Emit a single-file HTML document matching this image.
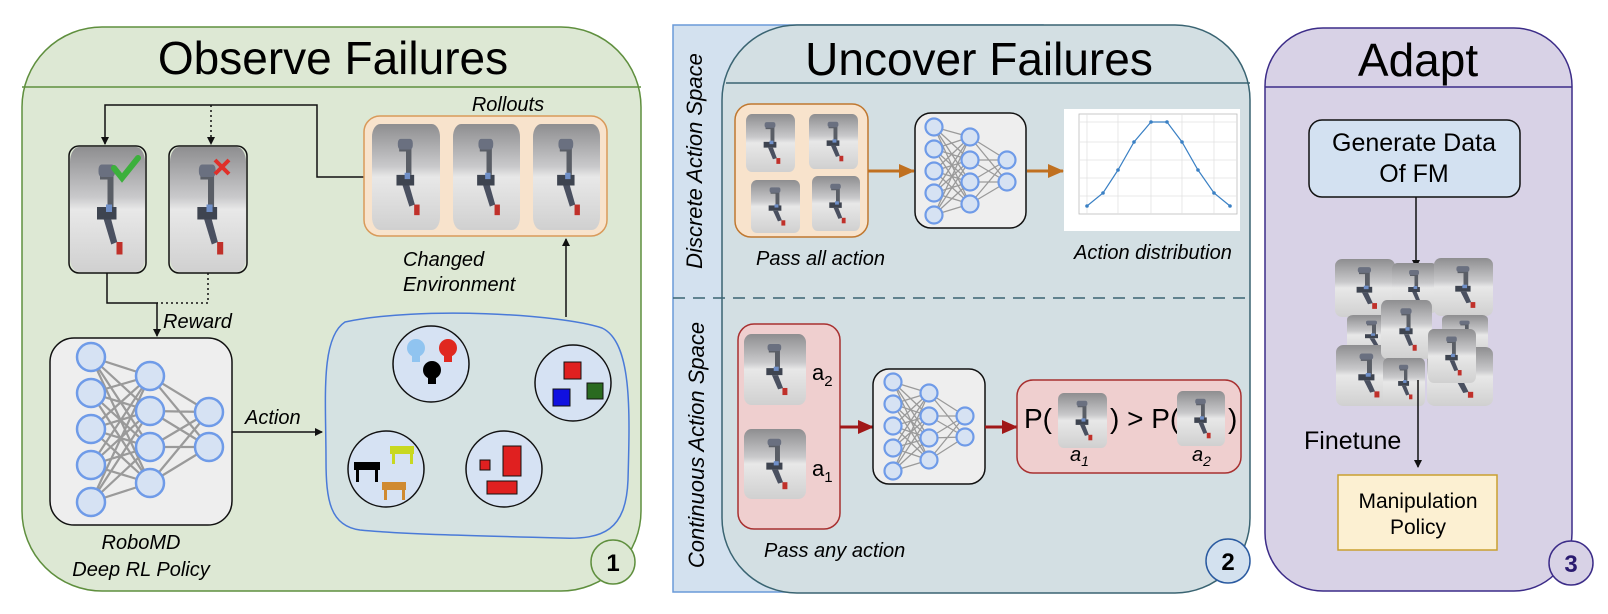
<!DOCTYPE html>
<html><head><meta charset="utf-8"><style>
html,body{margin:0;padding:0;background:#fff;}
svg{display:block;font-family:"Liberation Sans",sans-serif;}
</style></head><body>
<svg width="1608" height="614" viewBox="0 0 1608 614" xmlns="http://www.w3.org/2000/svg">
<defs>
<linearGradient id="pg" x1="0" y1="0" x2="0" y2="1">
<stop offset="0" stop-color="#8e8e90"/><stop offset="0.4" stop-color="#c9c9cb"/><stop offset="0.5" stop-color="#e8e8e8"/><stop offset="1" stop-color="#d0d0d0"/></linearGradient>
<symbol id="ph" viewBox="0 0 100 100" preserveAspectRatio="none">
<rect x="0" y="0" width="100" height="100" rx="12" fill="url(#pg)"/>
<path d="M40 18 h18 v30 h-8 v-22 h-10z" fill="#5a5e66"/>
<rect x="38" y="14" width="22" height="10" rx="4" fill="#6a7080"/>
<path d="M36 48 h26 v10 h-26z" fill="#3e4450"/>
<path d="M45 58 l10 0 l8 18 l-8 2z" fill="#4a5060"/>
<rect x="48" y="46" width="8" height="6" fill="#6f8fc8"/>
<rect x="62" y="76" width="8" height="10" fill="#c0302a"/>
</symbol>
<marker id="ah" markerWidth="8" markerHeight="8" refX="7" refY="4" orient="auto" markerUnits="userSpaceOnUse"><path d="M0 0 L8 4 L0 8z" fill="#111"/></marker>
<marker id="ao" markerWidth="16" markerHeight="14" refX="15" refY="7" orient="auto" markerUnits="userSpaceOnUse"><path d="M0 0 L16 7 L0 14z" fill="#c07020"/></marker>
<marker id="ar" markerWidth="16" markerHeight="14" refX="15" refY="7" orient="auto" markerUnits="userSpaceOnUse"><path d="M0 0 L16 7 L0 14z" fill="#a01818"/></marker>
</defs>

<!-- PANEL 1 -->
<rect x="22" y="27" width="619" height="564" rx="80" fill="#dde8d4" stroke="#5f8f3e" stroke-width="1.5"/>
<line x1="22" y1="87" x2="641" y2="87" stroke="#5f8f3e" stroke-width="1.5"/>
<text x="333" y="74" font-size="46" text-anchor="middle" fill="#000">Observe Failures</text>

<!-- photos check/cross -->
<rect x="69" y="146" width="77" height="127" rx="10" fill="none" stroke="#111" stroke-width="1.5"/>
<use href="#ph" x="70" y="147" width="75" height="125"/>
<rect x="169" y="146" width="78" height="127" rx="10" fill="none" stroke="#111" stroke-width="1.5"/>
<use href="#ph" x="170" y="147" width="76" height="125"/>
<path d="M114 168 l8 10 l16 -20" fill="none" stroke="#3cb03c" stroke-width="6" stroke-linecap="round"/>
<path d="M215 160 l14 14 M229 160 l-14 14" stroke="#e0302a" stroke-width="4"/>

<!-- top connectors -->
<polyline points="364,177 317,177 317,105 105,105 105,144" fill="none" stroke="#111" stroke-width="1.5" marker-end="url(#ah)"/>
<line x1="211" y1="105" x2="211" y2="144" stroke="#111" stroke-width="1.5" stroke-dasharray="2,3" marker-end="url(#ah)"/>
<polyline points="107,273 107,303 157,303 157,336" fill="none" stroke="#111" stroke-width="1.5" marker-end="url(#ah)"/>
<polyline points="208,273 208,303 157,303" fill="none" stroke="#111" stroke-width="1.5" stroke-dasharray="2,3"/>
<text x="163" y="328" font-size="20" font-style="italic">Reward</text>

<!-- rollouts -->
<text x="508" y="111" font-size="20" font-style="italic" text-anchor="middle">Rollouts</text>
<rect x="364" y="116" width="243" height="120" rx="16" fill="#f8e3cc" stroke="#d99a5a" stroke-width="1.5"/>
<use href="#ph" x="372" y="124" width="68" height="106"/>
<use href="#ph" x="453" y="124" width="67" height="106"/>
<use href="#ph" x="533" y="124" width="67" height="106"/>
<text x="403" y="266" font-size="20" font-style="italic">Changed</text>
<text x="403" y="291" font-size="20" font-style="italic">Environment</text>
<line x1="566" y1="317" x2="566" y2="239" stroke="#111" stroke-width="1.5" marker-end="url(#ah)"/>

<!-- NN 1 -->
<rect x="50" y="338" width="182" height="187" rx="24" fill="#eeeeee" stroke="#111" stroke-width="1.5"/>
<g stroke="#9a9a9a" stroke-width="2.2">
<path d="M91 357L150 376M91 357L150 411M91 357L150 447M91 357L150 483M91 393L150 376M91 393L150 411M91 393L150 447M91 393L150 483M91 429L150 376M91 429L150 411M91 429L150 447M91 429L150 483M91 465L150 376M91 465L150 411M91 465L150 447M91 465L150 483M91 502L150 376M91 502L150 411M91 502L150 447M91 502L150 483M150 376L209 412M150 376L209 447M150 411L209 412M150 411L209 447M150 447L209 412M150 447L209 447M150 483L209 412M150 483L209 447"/>
</g>
<g fill="#d6e2f3" stroke="#6f9be8" stroke-width="2.5">
<circle cx="91" cy="357" r="14"/><circle cx="91" cy="393" r="14"/><circle cx="91" cy="429" r="14"/><circle cx="91" cy="465" r="14"/><circle cx="91" cy="502" r="14"/>
<circle cx="150" cy="376" r="14"/><circle cx="150" cy="411" r="14"/><circle cx="150" cy="447" r="14"/><circle cx="150" cy="483" r="14"/>
<circle cx="209" cy="412" r="14"/><circle cx="209" cy="447" r="14"/>
</g>
<text x="141" y="549" font-size="20" font-style="italic" text-anchor="middle">RoboMD</text>
<text x="141" y="576" font-size="20" font-style="italic" text-anchor="middle">Deep RL Policy</text>
<text x="245" y="424" font-size="20" font-style="italic">Action</text>
<line x1="232" y1="432" x2="322" y2="432" stroke="#111" stroke-width="1.5" marker-end="url(#ah)"/>

<!-- blob -->
<path d="M345 322 C420 306 560 314 602 328 C632 342 630 410 628 480 C626 530 604 540 560 538 C480 536 400 534 360 530 C330 526 326 500 326 460 C326 400 320 338 345 322 Z" fill="#d5e2e2" stroke="#4a7ad8" stroke-width="1.5"/>
<g stroke="#111" stroke-width="1.5" fill="#d6e2f3">
<circle cx="431" cy="364" r="38"/><circle cx="573" cy="383" r="38"/><circle cx="386" cy="469" r="38"/><circle cx="504" cy="469" r="38"/>
</g>
<!-- bulbs -->
<circle cx="416" cy="348" r="9" fill="#90c4f0"/><rect x="412" y="356" width="8" height="6" fill="#90c4f0"/>
<circle cx="448" cy="348" r="9" fill="#e02820"/><rect x="444" y="356" width="8" height="6" fill="#e02820"/>
<circle cx="432" cy="370" r="9" fill="#000"/><rect x="428" y="378" width="8" height="6" fill="#000"/>
<!-- cubes -->
<rect x="564" y="362" width="17" height="17" fill="#e02020" stroke="#111"/>
<rect x="553" y="389" width="17" height="17" fill="#1010e0" stroke="#111"/>
<rect x="587" y="383" width="16" height="16" fill="#2a6a20" stroke="#111"/>
<!-- tables -->
<rect x="354" y="462" width="26" height="8" fill="#000"/><rect x="356" y="470" width="3" height="12" fill="#000"/><rect x="375" y="470" width="3" height="12" fill="#000"/>
<rect x="390" y="446" width="24" height="8" fill="#c8d820"/><rect x="392" y="454" width="3" height="10" fill="#c8d820"/><rect x="410" y="454" width="3" height="10" fill="#c8d820"/>
<rect x="382" y="482" width="24" height="8" fill="#d08a30"/><rect x="384" y="490" width="3" height="10" fill="#d08a30"/><rect x="402" y="490" width="3" height="10" fill="#d08a30"/>
<!-- boxes -->
<rect x="480" y="460" width="10" height="10" fill="#e02020" stroke="#111"/>
<rect x="503" y="446" width="18" height="30" fill="#e02020" stroke="#111"/>
<rect x="487" y="481" width="30" height="13" fill="#e02020" stroke="#111"/>
<circle cx="613" cy="562" r="22" fill="#dde8d4" stroke="#5f8f3e" stroke-width="1.5"/>
<text x="613" y="571" font-size="24" font-weight="bold" text-anchor="middle">1</text>

<!-- PANEL 2 -->
<rect x="673" y="25" width="370" height="567" fill="#d3e1ef" stroke="#6a9ad8" stroke-width="1.5"/>
<rect x="722" y="25" width="528" height="568" rx="75" fill="#d3dfe3" stroke="#3a6472" stroke-width="1.5"/>
<line x1="726" y1="83" x2="1250" y2="83" stroke="#3a6472" stroke-width="1.5"/>
<line x1="673" y1="298" x2="1250" y2="298" stroke="#3a6472" stroke-width="1.5" stroke-dasharray="12,8"/>
<text x="979" y="75" font-size="46" text-anchor="middle">Uncover Failures</text>
<text transform="translate(702,161) rotate(-90)" font-size="22" font-style="italic" text-anchor="middle">Discrete Action Space</text>
<text transform="translate(704,445) rotate(-90)" font-size="22" font-style="italic" text-anchor="middle">Continuous Action Space</text>

<rect x="735" y="104" width="133" height="133" rx="16" fill="#f8e3cc" stroke="#c07830" stroke-width="1.5"/>
<use href="#ph" x="746" y="114" width="49" height="58"/>
<use href="#ph" x="809" y="114" width="49" height="55"/>
<use href="#ph" x="751" y="180" width="49" height="53"/>
<use href="#ph" x="812" y="176" width="48" height="55"/>
<line x1="868" y1="171" x2="914" y2="171" stroke="#c07020" stroke-width="3" marker-end="url(#ao)"/>
<text x="756" y="265" font-size="20" font-style="italic">Pass all action</text>

<rect x="915" y="113" width="111" height="115" rx="16" fill="#eeeeee" stroke="#111" stroke-width="1.5"/>
<g stroke="#9a9a9a" stroke-width="1.3">
<path d="M934 127L970 137M934 127L970 160M934 127L970 182M934 127L970 204M934 149L970 137M934 149L970 160M934 149L970 182M934 149L970 204M934 171L970 137M934 171L970 160M934 171L970 182M934 171L970 204M934 193L970 137M934 193L970 160M934 193L970 182M934 193L970 204M934 215L970 137M934 215L970 160M934 215L970 182M934 215L970 204M970 137L1007 160M970 137L1007 182M970 160L1007 160M970 160L1007 182M970 182L1007 160M970 182L1007 182M970 204L1007 160M970 204L1007 182"/></g>
<g fill="#d6e2f3" stroke="#6f9be8" stroke-width="2.2">
<circle cx="934" cy="127" r="8.5"/><circle cx="934" cy="149" r="8.5"/><circle cx="934" cy="171" r="8.5"/><circle cx="934" cy="193" r="8.5"/><circle cx="934" cy="215" r="8.5"/>
<circle cx="970" cy="137" r="8.5"/><circle cx="970" cy="160" r="8.5"/><circle cx="970" cy="182" r="8.5"/><circle cx="970" cy="204" r="8.5"/>
<circle cx="1007" cy="160" r="8.5"/><circle cx="1007" cy="182" r="8.5"/></g>
<line x1="1027" y1="171" x2="1063" y2="171" stroke="#c07020" stroke-width="3" marker-end="url(#ao)"/>

<rect x="1064" y="109" width="176" height="122" fill="#fff"/>
<rect x="1079" y="114" width="158" height="100" fill="none" stroke="#bbb" stroke-width="0.8"/>
<g stroke="#e2e2e2" stroke-width="0.8">
<line x1="1087" y1="114" x2="1087" y2="214"/><line x1="1118" y1="114" x2="1118" y2="214"/><line x1="1151" y1="114" x2="1151" y2="214"/><line x1="1182" y1="114" x2="1182" y2="214"/><line x1="1214" y1="114" x2="1214" y2="214"/>
<line x1="1079" y1="122" x2="1237" y2="122"/><line x1="1079" y1="142" x2="1237" y2="142"/><line x1="1079" y1="160" x2="1237" y2="160"/><line x1="1079" y1="178" x2="1237" y2="178"/><line x1="1079" y1="196" x2="1237" y2="196"/></g>
<polyline points="1087,206 1103,193 1118,170 1134,142 1151,122 1167,122 1182,142 1198,170 1214,193 1230,206" fill="none" stroke="#3a80c4" stroke-width="1.2"/>
<g fill="#3a80c4"><circle cx="1087" cy="206" r="1.8"/><circle cx="1103" cy="193" r="1.8"/><circle cx="1118" cy="170" r="1.8"/><circle cx="1134" cy="142" r="1.8"/><circle cx="1151" cy="122" r="1.8"/><circle cx="1167" cy="122" r="1.8"/><circle cx="1182" cy="142" r="1.8"/><circle cx="1198" cy="170" r="1.8"/><circle cx="1214" cy="193" r="1.8"/><circle cx="1230" cy="206" r="1.8"/></g>
<text x="1074" y="259" font-size="20" font-style="italic">Action distribution</text>

<rect x="738" y="324" width="102" height="205" rx="16" fill="#efcfcf" stroke="#a83030" stroke-width="1.5"/>
<use href="#ph" x="744" y="334" width="62" height="71"/>
<use href="#ph" x="744" y="429" width="62" height="70"/>
<text x="812" y="380" font-size="22">a<tspan font-size="15" dy="6">2</tspan></text>
<text x="812" y="476" font-size="22">a<tspan font-size="15" dy="6">1</tspan></text>
<line x1="840" y1="427" x2="873" y2="427" stroke="#a01818" stroke-width="3" marker-end="url(#ar)"/>
<text x="764" y="557" font-size="20" font-style="italic">Pass any action</text>

<rect x="873" y="369" width="112" height="115" rx="16" fill="#eeeeee" stroke="#111" stroke-width="1.5"/>
<g stroke="#9a9a9a" stroke-width="1.3">
<path d="M893 382L929 393M893 382L929 416M893 382L929 438M893 382L929 460M893 404L929 393M893 404L929 416M893 404L929 438M893 404L929 460M893 426L929 393M893 426L929 416M893 426L929 438M893 426L929 460M893 448L929 393M893 448L929 416M893 448L929 438M893 448L929 460M893 471L929 393M893 471L929 416M893 471L929 438M893 471L929 460M929 393L965 416M929 393L965 437M929 416L965 416M929 416L965 437M929 438L965 416M929 438L965 437M929 460L965 416M929 460L965 437"/></g>
<g fill="#d6e2f3" stroke="#6f9be8" stroke-width="2.2">
<circle cx="893" cy="382" r="8.5"/><circle cx="893" cy="404" r="8.5"/><circle cx="893" cy="426" r="8.5"/><circle cx="893" cy="448" r="8.5"/><circle cx="893" cy="471" r="8.5"/>
<circle cx="929" cy="393" r="8.5"/><circle cx="929" cy="416" r="8.5"/><circle cx="929" cy="438" r="8.5"/><circle cx="929" cy="460" r="8.5"/>
<circle cx="965" cy="416" r="8.5"/><circle cx="965" cy="437" r="8.5"/></g>
<line x1="985" y1="427" x2="1017" y2="427" stroke="#a01818" stroke-width="3" marker-end="url(#ar)"/>

<rect x="1017" y="380" width="224" height="93" rx="16" fill="#efcfcf" stroke="#a83030" stroke-width="1.5"/>
<text x="1024" y="428" font-size="28">P(</text>
<use href="#ph" x="1058" y="393" width="49" height="55"/>
<text x="1110" y="428" font-size="28">) &gt; P(</text>
<use href="#ph" x="1177" y="391" width="48" height="55"/>
<text x="1228" y="428" font-size="28">)</text>
<text x="1070" y="461" font-size="20" font-style="italic">a<tspan font-size="14" dy="5">1</tspan></text>
<text x="1192" y="461" font-size="20" font-style="italic">a<tspan font-size="14" dy="5">2</tspan></text>
<circle cx="1228" cy="561" r="22" fill="#d3e1ef" stroke="#2a5aa0" stroke-width="1.5"/>
<text x="1228" y="570" font-size="24" font-weight="bold" text-anchor="middle">2</text>

<!-- PANEL 3 -->
<rect x="1265" y="28" width="307" height="563" rx="58" fill="#d8d2e6" stroke="#3c2c88" stroke-width="1.5"/>
<line x1="1265" y1="87" x2="1572" y2="87" stroke="#3c2c88" stroke-width="1.5"/>
<text x="1418" y="76" font-size="46" text-anchor="middle">Adapt</text>
<rect x="1309" y="120" width="211" height="77" rx="13" fill="#d3e1f1" stroke="#111" stroke-width="1.5"/>
<text x="1414" y="151" font-size="25" text-anchor="middle">Generate Data</text>
<text x="1414" y="182" font-size="25" text-anchor="middle">Of FM</text>
<line x1="1416" y1="197" x2="1416" y2="267" stroke="#111" stroke-width="1.5" marker-end="url(#ah)"/>
<use href="#ph" x="1335" y="259" width="60" height="58"/>
<use href="#ph" x="1392" y="263" width="45" height="50"/>
<use href="#ph" x="1434" y="258" width="59" height="58"/>
<use href="#ph" x="1347" y="315" width="50" height="40"/>
<use href="#ph" x="1442" y="315" width="46" height="40"/>
<use href="#ph" x="1336" y="345" width="62" height="61"/>
<use href="#ph" x="1427" y="347" width="66" height="59"/>
<use href="#ph" x="1381" y="300" width="51" height="59"/>
<use href="#ph" x="1428" y="329" width="48" height="54"/>
<use href="#ph" x="1383" y="358" width="42" height="48"/>
<line x1="1418" y1="380" x2="1418" y2="467" stroke="#111" stroke-width="1.5" marker-end="url(#ah)"/>
<text x="1304" y="449" font-size="25">Finetune</text>
<rect x="1338" y="475" width="159" height="75" fill="#fcf0d2" stroke="#c9a030" stroke-width="1.5"/>
<text x="1418" y="508" font-size="21" text-anchor="middle">Manipulation</text>
<text x="1418" y="534" font-size="21" text-anchor="middle">Policy</text>
<circle cx="1571" cy="563" r="22" fill="#d8d2e6" stroke="#3c2c88" stroke-width="1.5"/>
<text x="1571" y="572" font-size="24" font-weight="bold" fill="#2a1a70" text-anchor="middle">3</text>
</svg>
</body></html>
